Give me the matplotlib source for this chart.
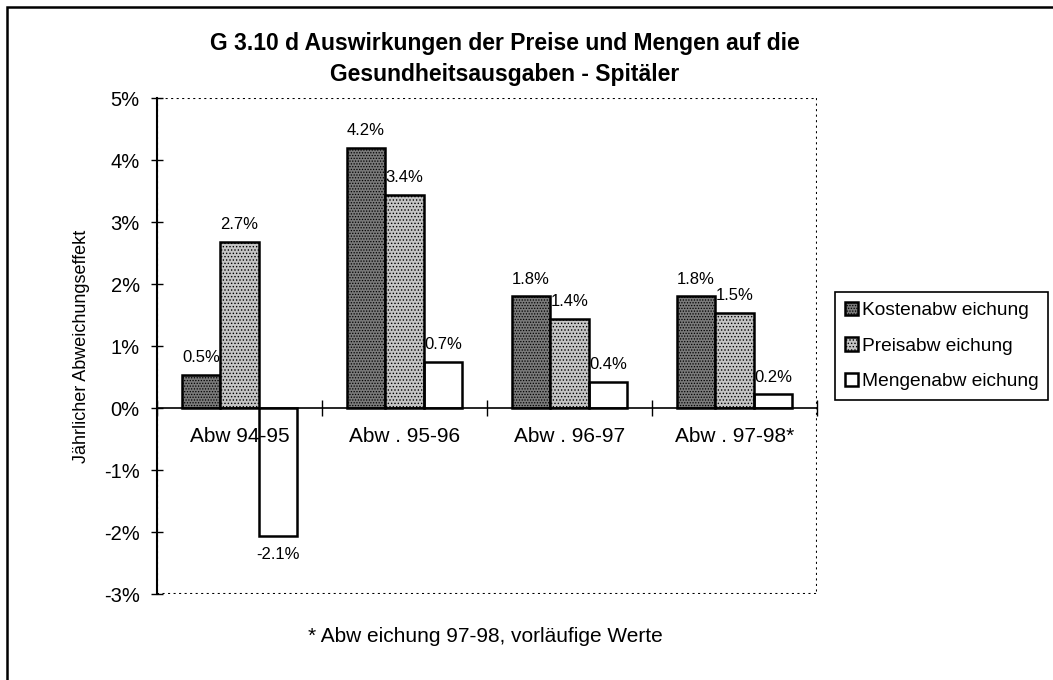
import numpy as np
import matplotlib
matplotlib.use("Agg")
import matplotlib.pyplot as plt
from matplotlib.patches import Rectangle

plt.rcParams['font.family'] = ['Liberation Sans', 'DejaVu Sans']
plt.rcParams['hatch.linewidth'] = 0.6

# data
categories = ['Abw 94-95', 'Abw . 95-96', 'Abw . 96-97', 'Abw . 97-98*']
kosten = [0.53, 4.20, 1.80, 1.80]
preis = [2.68, 3.44, 1.44, 1.54]
mengen = [-2.07, 0.74, 0.42, 0.22]
series_names = ['Kostenabw eichung', 'Preisabw eichung', 'Mengenabw eichung']
yticks = [-3, -2, -1, 0, 1, 2, 3, 4, 5]

fig = plt.figure(figsize=(10.53, 6.8), dpi=100)
ax = fig.add_axes([157 / 1053, 1 - 594 / 680, 660 / 1053, 496 / 680])

x = np.arange(len(categories))
w = 0.233
styles = [dict(facecolor='#7a7a7a', hatch='......'),
          dict(facecolor='#c4c4c4', hatch='.....'),
          dict(facecolor='none', hatch=None)]
handles = []
for i, (vals, st) in enumerate(zip([kosten, preis, mengen], styles)):
    b = ax.bar(x + (i - 1) * w, vals, w, edgecolor='black', linewidth=1.8,
               label=series_names[i], zorder=2, **st)
    handles.append(b)
    for xi, v in zip(x + (i - 1) * w, vals):
        if v >= 0:
            ax.annotate(f'{v:.1f}%', (xi, v), xytext=(0, 7), textcoords='offset points',
                        ha='center', va='bottom', fontsize=12)
        else:
            ax.annotate(f'{v:.1f}%', (xi, v), xytext=(0, -8), textcoords='offset points',
                        ha='center', va='top', fontsize=12)

ax.set_xlim(-0.5, 3.5)
ax.set_ylim(-3, 5)

# axes: solid left spine, zero line as x axis, dotted frame
for s in ['top', 'right']:
    ax.spines[s].set_visible(False)
ax.spines['bottom'].set_position(('data', 0))
ax.spines['bottom'].set_linewidth(1.2)
ax.spines['left'].set_linewidth(1.5)
ax.add_patch(Rectangle((0, 0), 1, 1, transform=ax.transAxes, fill=False,
                       linestyle=':', linewidth=1.5, edgecolor='black', zorder=1))

ax.set_xticks(np.arange(-0.5, 4, 1))
ax.set_xticklabels([])
ax.set_xticks(x, minor=True)
ax.set_xticklabels(categories, minor=True, fontsize=15)
ax.tick_params(axis='x', which='major', direction='inout', length=12, width=1)
ax.tick_params(axis='x', which='minor', length=0, pad=14)

ax.set_yticks(yticks)
ax.set_yticklabels([f'{t}%' for t in yticks], fontsize=14.5)
ax.tick_params(axis='y', direction='inout', length=9, width=1, pad=8)

ax.set_ylabel('Jährlicher Abweichungseffekt', fontsize=13, labelpad=10)

fig.text(505 / 1053, 1 - 59 / 680,
         'G 3.10 d Auswirkungen der Preise und Mengen auf die\nGesundheitsausgaben - Spitäler',
         ha='center', va='center', fontsize=16.5, fontweight='bold', linespacing=1.4)

fig.text(485 / 1053, 1 - 636 / 680, '* Abw eichung 97-98, vorläufige Werte',
         ha='center', va='center', fontsize=15)

leg = fig.legend(handles=handles, loc='upper left',
                 bbox_to_anchor=(835 / 1053, 1 - 292 / 680), fontsize=13.8,
                 frameon=True, fancybox=False, edgecolor='black', framealpha=1,
                 handlelength=0.7, handleheight=0.7, handletextpad=0.2,
                 labelspacing=0.95, borderpad=0.5, borderaxespad=0)
leg.get_frame().set_linewidth(1.2)

# outer frame
fig.patches.append(Rectangle((7 / 1053, -0.02), 1.05, 1 - 7 / 680 + 0.02,
                             transform=fig.transFigure, fill=False,
                             edgecolor='black', linewidth=1.8))

fig.savefig('out.png', dpi=100)
